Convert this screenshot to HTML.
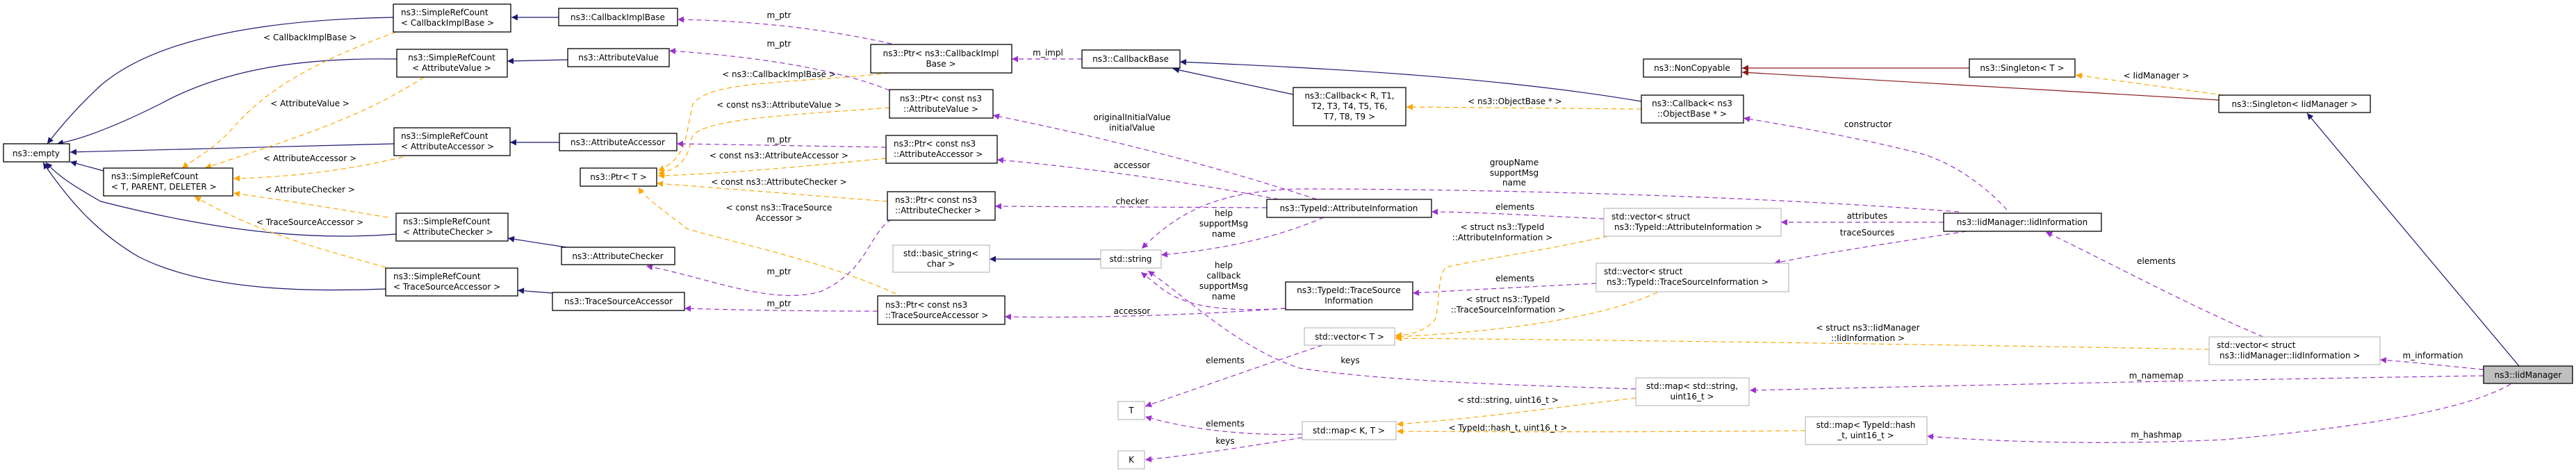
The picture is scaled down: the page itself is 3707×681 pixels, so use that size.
<!DOCTYPE html>
<html><head><meta charset="utf-8"><style>
html,body{margin:0;padding:0;background:#fff;}
svg{display:block;}
text{font-family:"DejaVu Sans","Liberation Sans",sans-serif;font-size:12px;fill:#000;}
.b{fill:#fff;stroke:#000;stroke-width:1.3;}
.g{fill:#fff;stroke:#bfbfbf;stroke-width:1.3;}
.n{fill:none;stroke:#191970;stroke-width:1.2;}
.r{fill:none;stroke:#8b1a1a;stroke-width:1.2;}
.o{fill:none;stroke:#ffa500;stroke-width:1.2;stroke-dasharray:7,5;}
.p{fill:none;stroke:#9a32cd;stroke-width:1.2;stroke-dasharray:7,5;}
</style></head><body>
<svg width="3707" height="681" viewBox="0 0 3707 681" xmlns="http://www.w3.org/2000/svg">
<defs>
<marker id="mn" viewBox="0 0 10 10" refX="10" refY="5" markerWidth="11" markerHeight="9" markerUnits="userSpaceOnUse" orient="auto"><path d="M0,0 L10,5 L0,10 z" fill="#191970"/></marker>
<marker id="mr" viewBox="0 0 10 10" refX="10" refY="5" markerWidth="11" markerHeight="9" markerUnits="userSpaceOnUse" orient="auto"><path d="M0,0 L10,5 L0,10 z" fill="#8b1a1a"/></marker>
<marker id="mo" viewBox="0 0 10 10" refX="10" refY="5" markerWidth="11" markerHeight="9" markerUnits="userSpaceOnUse" orient="auto"><path d="M0,0 L10,5 L0,10 z" fill="#ffa500"/></marker>
<marker id="mp" viewBox="0 0 10 10" refX="10" refY="5" markerWidth="11" markerHeight="9" markerUnits="userSpaceOnUse" orient="auto"><path d="M0,0 L10,5 L0,10 z" fill="#9a32cd"/></marker>
</defs>

<!-- navy inheritance edges -->
<path class="n" marker-end="url(#mn)" d="M566,25 C400,28 230,50 145,123 C110,155 85,185 68,207"/>
<path class="n" marker-end="url(#mn)" d="M571,85 C450,83 330,95 230,150 C170,180 120,200 82,207"/>
<path class="n" marker-end="url(#mn)" d="M567,207 C420,210 250,216 101,219"/>
<path class="n" marker-end="url(#mn)" d="M149,246 L101,233"/>
<path class="n" marker-end="url(#mn)" d="M570,337 C470,345 340,340 145,290 C110,270 85,255 66,234"/>
<path class="n" marker-end="url(#mn)" d="M555,416 C450,420 300,420 200,370 C140,335 100,290 62,234"/>
<path class="n" marker-end="url(#mn)" d="M804,25 L736,25"/>
<path class="n" marker-end="url(#mn)" d="M817,86 L730,88"/>
<path class="n" marker-end="url(#mn)" d="M805,205 L734,205"/>
<path class="n" marker-end="url(#mn)" d="M815,356 L731,343"/>
<path class="n" marker-end="url(#mn)" d="M795,422 L745,418"/>
<path class="n" marker-end="url(#mn)" d="M1584,373 L1424,373"/>
<path class="n" marker-end="url(#mn)" d="M1861,136 L1688,99"/>
<path class="n" marker-end="url(#mn)" d="M2362,146 C2150,110 1900,98 1698,89"/>
<path class="n" marker-end="url(#mn)" d="M3625,527 L3320,163"/>

<!-- dark red -->
<path class="r" marker-end="url(#mr)" d="M2834,98 L2507,98"/>
<path class="r" marker-end="url(#mr)" d="M3193,144 L2507,104"/>

<!-- orange template edges -->
<path class="o" marker-end="url(#mo)" d="M570,46 C450,90 380,130 330,190 C300,220 275,232 262,242"/>
<path class="o" marker-end="url(#mo)" d="M610,111 C520,170 420,200 295,242"/>
<path class="o" marker-end="url(#mo)" d="M580,226 C500,245 420,255 336,257"/>
<path class="o" marker-end="url(#mo)" d="M558,313 C480,300 420,290 336,278"/>
<path class="o" marker-end="url(#mo)" d="M555,385 C470,360 380,340 280,283"/>
<path class="o" marker-end="url(#mo)" d="M1280,105 C1150,120 1020,115 997,150 C985,200 990,225 947,246"/>
<path class="o" marker-end="url(#mo)" d="M1280,155 C1150,165 1000,170 995,200 C990,235 970,245 947,250"/>
<path class="o" marker-end="url(#mo)" d="M1275,228 C1150,240 1050,250 947,253"/>
<path class="o" marker-end="url(#mo)" d="M1277,290 C1150,280 1050,272 945,264"/>
<path class="o" marker-end="url(#mo)" d="M1300,428 C1200,380 1080,355 990,330 C950,300 930,285 918,270"/>
<path class="o" marker-end="url(#mo)" d="M2362,157 L2024,154"/>
<path class="o" marker-end="url(#mo)" d="M3200,137 L2987,108"/>
<path class="o" marker-end="url(#mo)" d="M2314,340 C2200,365 2120,375 2080,385 C2068,400 2072,440 2065,460 C2050,478 2030,482 2008,483"/>
<path class="o" marker-end="url(#mo)" d="M2385,421 C2300,460 2150,478 2008,485"/>
<path class="o" marker-end="url(#mo)" d="M3179,503 C2900,498 2400,490 2008,487"/>
<path class="o" marker-end="url(#mo)" d="M2354,573 C2250,585 2150,600 2010,611"/>
<path class="o" marker-end="url(#mo)" d="M2598,620 C2400,622 2200,622 2010,621"/>

<!-- purple usage edges -->
<path class="p" marker-end="url(#mp)" d="M1283,63 C1180,40 1080,30 975,28"/>
<path class="p" marker-end="url(#mp)" d="M1280,130 C1230,110 1140,85 963,73"/>
<path class="p" marker-end="url(#mp)" d="M1275,212 C1150,210 1050,208 974,207"/>
<path class="p" marker-end="url(#mp)" d="M1283,316 C1250,335 1250,390 1180,420 C1110,440 1020,400 930,383"/>
<path class="p" marker-end="url(#mp)" d="M1263,448 C1150,448 1050,446 985,444"/>
<path class="p" marker-end="url(#mp)" d="M1557,85 L1456,85"/>
<path class="p" marker-end="url(#mp)" d="M1895,287 C1750,240 1600,200 1429,166"/>
<path class="p" marker-end="url(#mp)" d="M1840,287 C1700,260 1550,240 1435,230"/>
<path class="p" marker-end="url(#mp)" d="M1823,299 L1432,297"/>
<path class="p" marker-end="url(#mp)" d="M1905,313 C1830,345 1750,360 1671,367"/>
<path class="p" marker-end="url(#mp)" d="M1850,444 C1700,455 1550,458 1446,456"/>
<path class="p" marker-end="url(#mp)" d="M1850,444 C1750,450 1700,440 1665,410 L1642,392"/>
<path class="p" marker-end="url(#mp)" d="M2819,305 C2500,280 2100,272 1870,272 C1760,275 1700,300 1643,358"/>
<path class="p" marker-end="url(#mp)" d="M2308,315 C2200,310 2120,305 2060,305"/>
<path class="p" marker-end="url(#mp)" d="M2297,408 C2200,413 2100,418 2033,422"/>
<path class="p" marker-end="url(#mp)" d="M2797,320 L2563,320"/>
<path class="p" marker-end="url(#mp)" d="M2830,333 C2720,350 2620,365 2553,379"/>
<path class="p" marker-end="url(#mp)" d="M2888,302 C2850,260 2800,230 2760,220 C2680,200 2600,185 2509,170"/>
<path class="p" marker-end="url(#mp)" d="M1903,497 C1820,525 1720,560 1648,585"/>
<path class="p" marker-end="url(#mp)" d="M1874,625 C1780,628 1700,615 1648,600"/>
<path class="p" marker-end="url(#mp)" d="M1874,630 C1800,642 1720,655 1648,662"/>
<path class="p" marker-end="url(#mp)" d="M2354,560 C2200,555 2000,550 1870,530 C1780,500 1710,430 1652,390"/>
<path class="p" marker-end="url(#mp)" d="M3257,485 C3150,440 3020,370 2944,334"/>
<path class="p" marker-end="url(#mp)" d="M3574,532 C3520,527 3470,521 3425,518"/>
<path class="p" marker-end="url(#mp)" d="M3574,541 C3300,545 2900,553 2518,562"/>
<path class="p" marker-end="url(#mp)" d="M3613,553 C3550,590 3400,615 3200,633 C3050,640 2900,638 2773,628"/>

<!-- nodes -->
<rect class="b" x="5" y="207" width="95" height="26"/><text x="52" y="225" text-anchor="middle">ns3::empty</text>
<rect class="b" x="149" y="242" width="186" height="40"/><text x="160" y="258">ns3::SimpleRefCount</text><text x="160" y="273">&lt; T, PARENT, DELETER &gt;</text>
<rect class="b" x="566" y="6" width="169" height="40"/><text x="577" y="22">ns3::SimpleRefCount</text><text x="577" y="37">&lt; CallbackImplBase &gt;</text>
<rect class="b" x="571" y="71" width="159" height="40"/><text x="650" y="87" text-anchor="middle">ns3::SimpleRefCount</text><text x="650" y="102" text-anchor="middle">&lt; AttributeValue &gt;</text>
<rect class="b" x="567" y="184" width="167" height="40"/><text x="577" y="200">ns3::SimpleRefCount</text><text x="577" y="215">&lt; AttributeAccessor &gt;</text>
<rect class="b" x="570" y="307" width="161" height="40"/><text x="580" y="323">ns3::SimpleRefCount</text><text x="580" y="338">&lt; AttributeChecker &gt;</text>
<rect class="b" x="555" y="386" width="190" height="40"/><text x="566" y="402">ns3::SimpleRefCount</text><text x="566" y="417">&lt; TraceSourceAccessor &gt;</text>
<rect class="b" x="804" y="12" width="171" height="25"/><text x="889" y="29" text-anchor="middle">ns3::CallbackImplBase</text>
<rect class="b" x="817" y="70" width="146" height="26"/><text x="890" y="87" text-anchor="middle">ns3::AttributeValue</text>
<rect class="b" x="805" y="192" width="169" height="25"/><text x="889" y="209" text-anchor="middle">ns3::AttributeAccessor</text>
<rect class="b" x="835" y="242" width="110" height="26"/><text x="890" y="259" text-anchor="middle">ns3::Ptr&lt; T &gt;</text>
<rect class="b" x="808" y="356" width="163" height="25"/><text x="889" y="373" text-anchor="middle">ns3::AttributeChecker</text>
<rect class="b" x="795" y="421" width="190" height="26"/><text x="890" y="438" text-anchor="middle">ns3::TraceSourceAccessor</text>
<rect class="b" x="1253" y="64" width="203" height="41"/><text x="1354" y="81" text-anchor="middle">ns3::Ptr&lt; ns3::CallbackImpl</text><text x="1354" y="96" text-anchor="middle">Base &gt;</text>
<rect class="b" x="1280" y="129" width="149" height="41"/><text x="1354" y="146" text-anchor="middle">ns3::Ptr&lt; const ns3</text><text x="1354" y="161" text-anchor="middle">::AttributeValue &gt;</text>
<rect class="b" x="1275" y="195" width="160" height="40"/><text x="1286" y="211">ns3::Ptr&lt; const ns3</text><text x="1286" y="226">::AttributeAccessor &gt;</text>
<rect class="b" x="1277" y="276" width="155" height="41"/><text x="1288" y="292">ns3::Ptr&lt; const ns3</text><text x="1288" y="307">::AttributeChecker &gt;</text>
<rect class="b" x="1263" y="426" width="183" height="41"/><text x="1274" y="443">ns3::Ptr&lt; const ns3</text><text x="1274" y="458">::TraceSourceAccessor &gt;</text>
<rect class="g" x="1285" y="353" width="139" height="39"/><text x="1354" y="369" text-anchor="middle">std::basic_string&lt;</text><text x="1354" y="384" text-anchor="middle">char &gt;</text>
<rect class="b" x="1557" y="72" width="141" height="26"/><text x="1627" y="89" text-anchor="middle">ns3::CallbackBase</text>
<rect class="b" x="1861" y="126" width="162" height="55"/><text x="1942" y="142" text-anchor="middle">ns3::Callback&lt; R, T1,</text><text x="1942" y="157" text-anchor="middle">T2, T3, T4, T5, T6,</text><text x="1942" y="172" text-anchor="middle">T7, T8, T9 &gt;</text>
<rect class="b" x="1823" y="287" width="237" height="26"/><text x="1941" y="304" text-anchor="middle">ns3::TypeId::AttributeInformation</text>
<rect class="g" x="1584" y="360" width="87" height="26"/><text x="1627" y="377" text-anchor="middle">std::string</text>
<rect class="b" x="1850" y="406" width="183" height="40"/><text x="1941" y="422" text-anchor="middle">ns3::TypeId::TraceSource</text><text x="1941" y="437" text-anchor="middle">Information</text>
<rect class="g" x="1877" y="472" width="130" height="25"/><text x="1942" y="489" text-anchor="middle">std::vector&lt; T &gt;</text>
<rect class="g" x="1609" y="578" width="38" height="26"/><text x="1628" y="595" text-anchor="middle">T</text>
<rect class="g" x="1874" y="607" width="135" height="26"/><text x="1941" y="624" text-anchor="middle">std::map&lt; K, T &gt;</text>
<rect class="g" x="1609" y="649" width="38" height="26"/><text x="1628" y="666" text-anchor="middle">K</text>
<rect class="b" x="2365" y="85" width="141" height="26"/><text x="2435" y="102" text-anchor="middle">ns3::NonCopyable</text>
<rect class="b" x="2362" y="137" width="147" height="40"/><text x="2435" y="153" text-anchor="middle">ns3::Callback&lt; ns3</text><text x="2435" y="168" text-anchor="middle">::ObjectBase * &gt;</text>
<rect class="g" x="2308" y="300" width="255" height="40"/><text x="2319" y="316">std::vector&lt; struct</text><text x="2323" y="331">ns3::TypeId::AttributeInformation &gt;</text>
<rect class="g" x="2297" y="379" width="277" height="41"/><text x="2308" y="395">std::vector&lt; struct</text><text x="2312" y="410">ns3::TypeId::TraceSourceInformation &gt;</text>
<rect class="b" x="2797" y="307" width="227" height="26"/><text x="2910" y="324" text-anchor="middle">ns3::IidManager::IidInformation</text>
<rect class="g" x="2354" y="544" width="163" height="40"/><text x="2435" y="560" text-anchor="middle">std::map&lt; std::string,</text><text x="2435" y="575" text-anchor="middle">uint16_t &gt;</text>
<rect class="g" x="2598" y="600" width="175" height="40"/><text x="2685" y="616" text-anchor="middle">std::map&lt; TypeId::hash</text><text x="2685" y="631" text-anchor="middle">_t, uint16_t &gt;</text>
<rect class="b" x="2834" y="85" width="152" height="26"/><text x="2910" y="102" text-anchor="middle">ns3::Singleton&lt; T &gt;</text>
<rect class="b" x="3193" y="137" width="218" height="25"/><text x="3302" y="154" text-anchor="middle">ns3::Singleton&lt; IidManager &gt;</text>
<rect class="g" x="3179" y="485" width="246" height="40"/><text x="3190" y="501">std::vector&lt; struct</text><text x="3194" y="516">ns3::IidManager::IidInformation &gt;</text>
<rect x="3574" y="527" width="128" height="25" fill="#bfbfbf" stroke="#000" stroke-width="1.3"/><text x="3638" y="544" text-anchor="middle">ns3::IidManager</text>

<!-- edge labels -->
<g text-anchor="middle">
<text x="446" y="58">&lt; CallbackImplBase &gt;</text>
<text x="446" y="153">&lt; AttributeValue &gt;</text>
<text x="446" y="232">&lt; AttributeAccessor &gt;</text>
<text x="446" y="277">&lt; AttributeChecker &gt;</text>
<text x="446" y="324">&lt; TraceSourceAccessor &gt;</text>
<text x="1121" y="26">m_ptr</text>
<text x="1121" y="67">m_ptr</text>
<text x="1121" y="111">&lt; ns3::CallbackImplBase &gt;</text>
<text x="1121" y="155">&lt; const ns3::AttributeValue &gt;</text>
<text x="1121" y="205">m_ptr</text>
<text x="1121" y="228">&lt; const ns3::AttributeAccessor &gt;</text>
<text x="1121" y="266">&lt; const ns3::AttributeChecker &gt;</text>
<text x="1121" y="303">&lt; const ns3::TraceSource</text>
<text x="1121" y="318">Accessor &gt;</text>
<text x="1121" y="395">m_ptr</text>
<text x="1121" y="441">m_ptr</text>
<text x="1508" y="80">m_impl</text>
<text x="1629" y="173">originalInitialValue</text>
<text x="1629" y="188">initialValue</text>
<text x="1629" y="242">accessor</text>
<text x="1629" y="294">checker</text>
<text x="1761" y="311">help</text>
<text x="1761" y="326">supportMsg</text>
<text x="1761" y="341">name</text>
<text x="1761" y="386">help</text>
<text x="1761" y="401">callback</text>
<text x="1761" y="416">supportMsg</text>
<text x="1761" y="431">name</text>
<text x="1629" y="452">accessor</text>
<text x="1763" y="523">elements</text>
<text x="1943" y="523">keys</text>
<text x="1763" y="614">elements</text>
<text x="1763" y="639">keys</text>
<text x="2180" y="150">&lt; ns3::ObjectBase * &gt;</text>
<text x="2688" y="183">constructor</text>
<text x="2179" y="238">groupName</text>
<text x="2179" y="253">supportMsg</text>
<text x="2179" y="267">name</text>
<text x="2180" y="302">elements</text>
<text x="2687" y="315">attributes</text>
<text x="2162" y="331">&lt; struct ns3::TypeId</text>
<text x="2162" y="346">::AttributeInformation &gt;</text>
<text x="2687" y="339">traceSources</text>
<text x="2180" y="405">elements</text>
<text x="2170" y="435">&lt; struct ns3::TypeId</text>
<text x="2170" y="450">::TraceSourceInformation &gt;</text>
<text x="2688" y="476">&lt; struct ns3::IidManager</text>
<text x="2688" y="491">::IidInformation &gt;</text>
<text x="2170" y="580">&lt; std::string, uint16_t &gt;</text>
<text x="2170" y="620">&lt; TypeId::hash_t, uint16_t &gt;</text>
<text x="3103" y="113">&lt; IidManager &gt;</text>
<text x="3103" y="380">elements</text>
<text x="3501" y="516">m_information</text>
<text x="3103" y="545">m_namemap</text>
<text x="3103" y="630">m_hashmap</text>
</g>
</svg>
</body></html>
